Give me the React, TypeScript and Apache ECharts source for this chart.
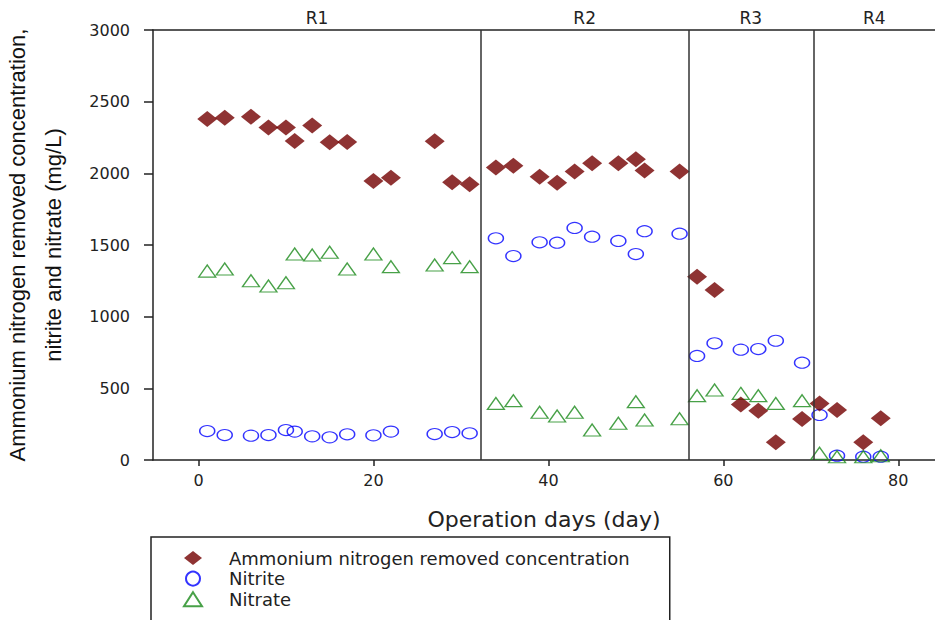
import { useEffect, useRef } from "react";
import * as echarts from "echarts";

const days = [1, 3, 6, 8, 10, 11, 13, 15, 17, 20, 22, 27, 29, 31, 34, 36, 39, 41, 43, 45, 48, 50, 51, 55, 57, 59, 62, 64, 66, 69, 71, 73, 76, 78];
const ammonium = [2379, 2388, 2395, 2319, 2319, 2225, 2333, 2216, 2219, 1947, 1970, 2223, 1937, 1923, 2040, 2053, 1977, 1935, 2012, 2070, 2070, 2098, 2019, 2012, 1279, 1186, 388, 344, 123, 286, 395, 349, 123, 291];
const nitrite = [202, 174, 170, 174, 209, 198, 165, 158, 179, 172, 198, 181, 195, 186, 1547, 1423, 1519, 1516, 1619, 1558, 1528, 1437, 1596, 1579, 726, 814, 770, 774, 832, 679, 314, 30, 23, 23];
const nitrate = [1318, 1333, 1251, 1214, 1237, 1437, 1430, 1449, 1333, 1437, 1349, 1360, 1412, 1349, 395, 414, 333, 307, 333, 209, 256, 407, 279, 288, 449, 488, 465, 449, 395, 414, 47, 23, 23, 30];

const xTicks = [0, 20, 40, 60, 80];
const phaseBounds = [32.3, 56, 70.3];
const phaseNames = ["R1", "R2", "R3", "R4"];
const seriesNames = ["Ammonium nitrogen removed concentration", "Nitrite", "Nitrate"];
const X_MIN = -5.2;
const X_MAX = 84.2;

const AX = "#222";
const DEJAVU = "'DejaVu Sans', sans-serif";
const ARIAL = "'Liberation Sans', Arial, sans-serif";

export default function App() {
  const ref = useRef<HTMLDivElement>(null);
  useEffect(() => {
    document.body.style.margin = "0";
    const chart = echarts.init(ref.current!, null, { renderer: "svg" });
    const edges = [X_MIN, ...phaseBounds, X_MAX];
    const pts = (vals: number[]) => days.map((d, i) => [d, vals[i]]);
    const axisLineStyle = { color: AX, width: 1.5 };
    const option: any = {
      animation: false,
      backgroundColor: "#fff",
      grid: { left: 153, top: 30, right: 0, bottom: 160, containLabel: false, outerBoundsMode: "none" },
      legend: {
        orient: "vertical",
        left: 151,
        top: 537,
        height: 300,
        itemWidth: 18,
        itemHeight: 14,
        itemGap: 0.6,
        borderColor: AX,
        borderWidth: 1.5,
        padding: [11, 40, 40, 32],
        textStyle: { fontFamily: DEJAVU, fontSize: 18, color: AX, lineHeight: 20, padding: [0, 0, 0, 22] },
        data: seriesNames,
      },
      xAxis: [
        {
          type: "value",
          min: X_MIN,
          max: X_MAX,
          position: "bottom",
          axisLine: { show: true, onZero: false, lineStyle: axisLineStyle },
          axisTick: { show: true, length: 6, customValues: xTicks, lineStyle: axisLineStyle },
          axisLabel: { customValues: xTicks, fontFamily: DEJAVU, fontSize: 16, color: AX, margin: 12, formatter: (v: number) => String(v) },
          splitLine: { show: false },
          name: "Operation days (day)",
          nameLocation: "middle",
          nameGap: 48,
          nameTextStyle: { fontFamily: DEJAVU, fontSize: 22, color: AX },
        },
        {
          type: "value",
          min: X_MIN,
          max: X_MAX,
          position: "top",
          axisLine: { show: true, onZero: false, lineStyle: axisLineStyle },
          axisTick: { show: false },
          axisLabel: { show: false },
          splitLine: { show: false },
        },
      ],
      yAxis: {
        type: "value",
        min: 0,
        max: 3000,
        interval: 500,
        axisLine: { show: true, onZero: false, lineStyle: axisLineStyle },
        axisTick: { show: true, length: 9, lineStyle: axisLineStyle },
        axisLabel: { fontFamily: DEJAVU, fontSize: 16, color: AX, margin: 23, formatter: (v: number) => String(v) },
        splitLine: { show: false },
        name: "Ammonium nitrogen removed concentration,\nnitrite and nitrate (mg/L)",
        nameLocation: "middle",
        nameRotate: 90,
        nameGap: 82,
        nameTextStyle: { fontFamily: ARIAL, fontSize: 22, lineHeight: 36, color: "#111", align: "center" },
      },
      series: [
        {
          name: seriesNames[0],
          type: "scatter",
          symbol: "diamond",
          symbolSize: [20, 16],
          itemStyle: { color: "#730000" },
          z: 4,
          data: pts(ammonium),
        },
        {
          name: seriesNames[1],
          type: "scatter",
          symbol: "circle",
          symbolSize: [15, 11],
          itemStyle: { color: "rgba(0,0,0,0)", borderColor: "#0000ff", borderWidth: 1.3 },
          z: 3,
          data: pts(nitrite),
          markLine: {
            silent: true,
            symbol: ["none", "none"],
            label: { show: false },
            lineStyle: { color: "#333", width: 1.5, type: "solid" },
            emphasis: { disabled: true },
            data: phaseBounds.map((v) => ({ xAxis: v })),
          },
          markArea: {
            silent: true,
            itemStyle: { color: "rgba(0,0,0,0)" },
            label: { show: true, position: "top", distance: 4, color: AX, fontFamily: DEJAVU, fontSize: 17 },
            emphasis: { disabled: true },
            data: phaseNames.map((n, i) => [{ name: n, xAxis: edges[i] }, { xAxis: edges[i + 1] }]),
          },
        },
        {
          name: seriesNames[2],
          type: "scatter",
          symbol: "triangle",
          symbolSize: [17, 12],
          itemStyle: { color: "rgba(0,0,0,0)", borderColor: "#1a8a1a", borderWidth: 1.3 },
          z: 3,
          data: pts(nitrate),
        },
      ],
    };
    chart.setOption(option);
    return () => chart.dispose();
  }, []);
  return (
    <div
      ref={ref}
      style={{ position: "fixed", left: 0, top: 0, width: 935, height: 620, background: "#fff" }}
    />
  );
}
